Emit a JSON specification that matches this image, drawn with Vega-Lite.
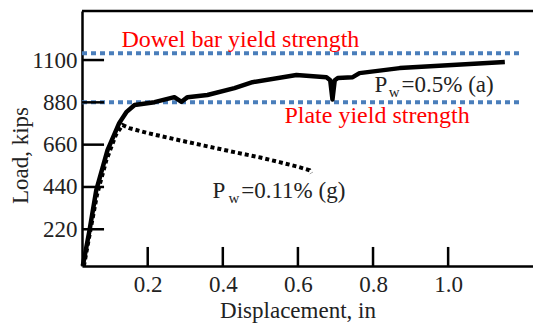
{
  "$schema": "https://vega.github.io/schema/vega-lite/v6.json",
  "width": 451,
  "height": 255,
  "autosize": {"type": "none"},
  "padding": {"left": 82, "top": 11, "right": 0, "bottom": 58},
  "background": "white",
  "config": {
    "view": {"stroke": null},
    "font": "Liberation Serif",
    "axis": {
      "domainColor": "black", "domainWidth": 2.5,
      "ticks": false,
      "labelColor": "#222", "labelFont": "Liberation Serif", "labelFontSize": 23,
      "titleColor": "#222", "titleFont": "Liberation Serif", "titleFontSize": 23, "titleFontWeight": "normal",
      "grid": false
    }
  },
  "datasets": {
    "curves": [
      {"series": "a", "disp": 0.027, "load": 29},
      {"series": "a", "disp": 0.035, "load": 110},
      {"series": "a", "disp": 0.045, "load": 214},
      {"series": "a", "disp": 0.063, "load": 423},
      {"series": "a", "disp": 0.093, "load": 631},
      {"series": "a", "disp": 0.124, "load": 772},
      {"series": "a", "disp": 0.143, "load": 829},
      {"series": "a", "disp": 0.165, "load": 866},
      {"series": "a", "disp": 0.218, "load": 881},
      {"series": "a", "disp": 0.271, "load": 907},
      {"series": "a", "disp": 0.29, "load": 883},
      {"series": "a", "disp": 0.306, "load": 907},
      {"series": "a", "disp": 0.359, "load": 918},
      {"series": "a", "disp": 0.431, "load": 954},
      {"series": "a", "disp": 0.479, "load": 985},
      {"series": "a", "disp": 0.596, "load": 1022},
      {"series": "a", "disp": 0.676, "load": 1011},
      {"series": "a", "disp": 0.686, "load": 995},
      {"series": "a", "disp": 0.692, "load": 895},
      {"series": "a", "disp": 0.698, "load": 995},
      {"series": "a", "disp": 0.706, "load": 1006},
      {"series": "a", "disp": 0.746, "load": 1011},
      {"series": "a", "disp": 0.764, "load": 1032},
      {"series": "a", "disp": 0.871, "load": 1058},
      {"series": "a", "disp": 1.151, "load": 1090},
      {"series": "g", "disp": 0.03, "load": 29},
      {"series": "g", "disp": 0.045, "load": 190},
      {"series": "g", "disp": 0.065, "load": 400},
      {"series": "g", "disp": 0.09, "load": 580},
      {"series": "g", "disp": 0.115, "load": 710},
      {"series": "g", "disp": 0.133, "load": 762},
      {"series": "g", "disp": 0.151, "load": 746},
      {"series": "g", "disp": 0.2, "load": 720},
      {"series": "g", "disp": 0.284, "load": 683},
      {"series": "g", "disp": 0.35, "load": 655},
      {"series": "g", "disp": 0.431, "load": 621},
      {"series": "g", "disp": 0.5, "load": 593},
      {"series": "g", "disp": 0.551, "load": 569},
      {"series": "g", "disp": 0.6, "load": 545},
      {"series": "g", "disp": 0.631, "load": 527},
      {"series": "g", "disp": 0.636, "load": 512}
    ],
    "limits": [
      {"name": "Dowel bar yield strength", "limitLoad": 1135, "lineStart": 0.025, "lineEnd": 1.196},
      {"name": "Plate yield strength", "limitLoad": 880, "lineStart": 0.025, "lineEnd": 1.196}
    ],
    "tickmarks": [
      {"tid": "y220", "tx": 0.025, "ty": 220}, {"tid": "y220", "tx": 0.0837, "ty": 220},
      {"tid": "y440", "tx": 0.025, "ty": 440}, {"tid": "y440", "tx": 0.0837, "ty": 440},
      {"tid": "y660", "tx": 0.025, "ty": 660}, {"tid": "y660", "tx": 0.0837, "ty": 660},
      {"tid": "y880", "tx": 0.025, "ty": 880}, {"tid": "y880", "tx": 0.0837, "ty": 880},
      {"tid": "y1100", "tx": 0.025, "ty": 1100}, {"tid": "y1100", "tx": 0.0837, "ty": 1100},
      {"tid": "x0.2", "tx": 0.2, "ty": 29}, {"tid": "x0.2", "tx": 0.2, "ty": 128},
      {"tid": "x0.4", "tx": 0.4, "ty": 29}, {"tid": "x0.4", "tx": 0.4, "ty": 128},
      {"tid": "x0.6", "tx": 0.6, "ty": 29}, {"tid": "x0.6", "tx": 0.6, "ty": 128},
      {"tid": "x0.8", "tx": 0.8, "ty": 29}, {"tid": "x0.8", "tx": 0.8, "ty": 128},
      {"tid": "x1.0", "tx": 1.0, "ty": 29}, {"tid": "x1.0", "tx": 1.0, "ty": 128}
    ],
    "notes": [
      {"kind": "red", "text": "Dowel bar yield strength", "nx": 0.13, "ny": 1166},
      {"kind": "red", "text": "Plate yield strength", "nx": 0.564, "ny": 772},
      {"kind": "main", "text": "P", "nx": 0.804, "ny": 935},
      {"kind": "sub", "text": "w", "nx": 0.842, "ny": 909},
      {"kind": "main", "text": "=0.5% (a)", "nx": 0.876, "ny": 935},
      {"kind": "main", "text": "P", "nx": 0.3725, "ny": 381},
      {"kind": "sub", "text": "w", "nx": 0.415, "ny": 355},
      {"kind": "main", "text": "=0.11% (g)", "nx": 0.449, "ny": 381}
    ]
  },
  "layer": [
    {
      "data": {"name": "limits"},
      "mark": {"type": "rule", "color": "#4a7ebb", "strokeWidth": 4, "strokeDash": [5, 4]},
      "encoding": {
        "x": {"field": "lineStart", "type": "quantitative", "scale": {"domain": [0.025, 1.226], "nice": false, "zero": false},
          "axis": {"values": [0.2, 0.4, 0.6, 0.8, 1.0], "format": ".1f", "labelPadding": 7, "title": "Displacement, in", "titleX": 215.5, "titleY": 51, "titleAlign": "center", "titleBaseline": "alphabetic"}},
        "x2": {"field": "lineEnd"},
        "y": {"field": "limitLoad", "type": "quantitative", "scale": {"domain": [29, 1355], "nice": false, "zero": false},
          "axis": {"values": [220, 440, 660, 880, 1100], "format": "d", "labelPadding": 5, "title": "Load, kips", "titleAngle": 270, "titleX": -55, "titleY": 144, "titleAlign": "center", "titleBaseline": "alphabetic"}}
      }
    },
    {
      "data": {"name": "curves"},
      "transform": [{"filter": "datum.series === 'g'"}],
      "mark": {"type": "line", "color": "black", "strokeWidth": 4, "strokeDash": [4, 3], "strokeCap": "butt"},
      "encoding": {
        "x": {"field": "disp", "type": "quantitative"},
        "y": {"field": "load", "type": "quantitative"}
      }
    },
    {
      "data": {"name": "curves"},
      "transform": [{"filter": "datum.series === 'a'"}],
      "mark": {"type": "line", "color": "black", "strokeWidth": 4.5, "strokeJoin": "round"},
      "encoding": {
        "x": {"field": "disp", "type": "quantitative"},
        "y": {"field": "load", "type": "quantitative"}
      }
    },
    {
      "data": {"values": [{"frameTop": 1355}]},
      "mark": {"type": "rule", "color": "black", "strokeWidth": 2.5},
      "encoding": {"y": {"field": "frameTop", "type": "quantitative"}}
    },
    {
      "data": {"name": "notes"},
      "transform": [{"filter": "datum.kind === 'red'"}],
      "mark": {"type": "text", "color": "#ff0000", "font": "Liberation Serif", "fontSize": 24, "align": "left", "baseline": "alphabetic"},
      "encoding": {
        "x": {"field": "nx", "type": "quantitative"},
        "y": {"field": "ny", "type": "quantitative"},
        "text": {"field": "text"}
      }
    },
    {
      "data": {"name": "notes"},
      "transform": [{"filter": "datum.kind === 'main'"}],
      "mark": {"type": "text", "color": "#222", "font": "Liberation Serif", "fontSize": 23, "align": "left", "baseline": "alphabetic"},
      "encoding": {
        "x": {"field": "nx", "type": "quantitative"},
        "y": {"field": "ny", "type": "quantitative"},
        "text": {"field": "text"}
      }
    },
    {
      "data": {"name": "notes"},
      "transform": [{"filter": "datum.kind === 'sub'"}],
      "mark": {"type": "text", "color": "#222", "font": "Liberation Serif", "fontSize": 15, "align": "left", "baseline": "alphabetic"},
      "encoding": {
        "x": {"field": "nx", "type": "quantitative"},
        "y": {"field": "ny", "type": "quantitative"},
        "text": {"field": "text"}
      }
    },
    {
      "data": {"name": "tickmarks"},
      "mark": {"type": "line", "color": "black", "strokeWidth": 2.5},
      "encoding": {
        "x": {"field": "tx", "type": "quantitative"},
        "y": {"field": "ty", "type": "quantitative"},
        "detail": {"field": "tid", "type": "nominal"}
      }
    }
  ]
}
